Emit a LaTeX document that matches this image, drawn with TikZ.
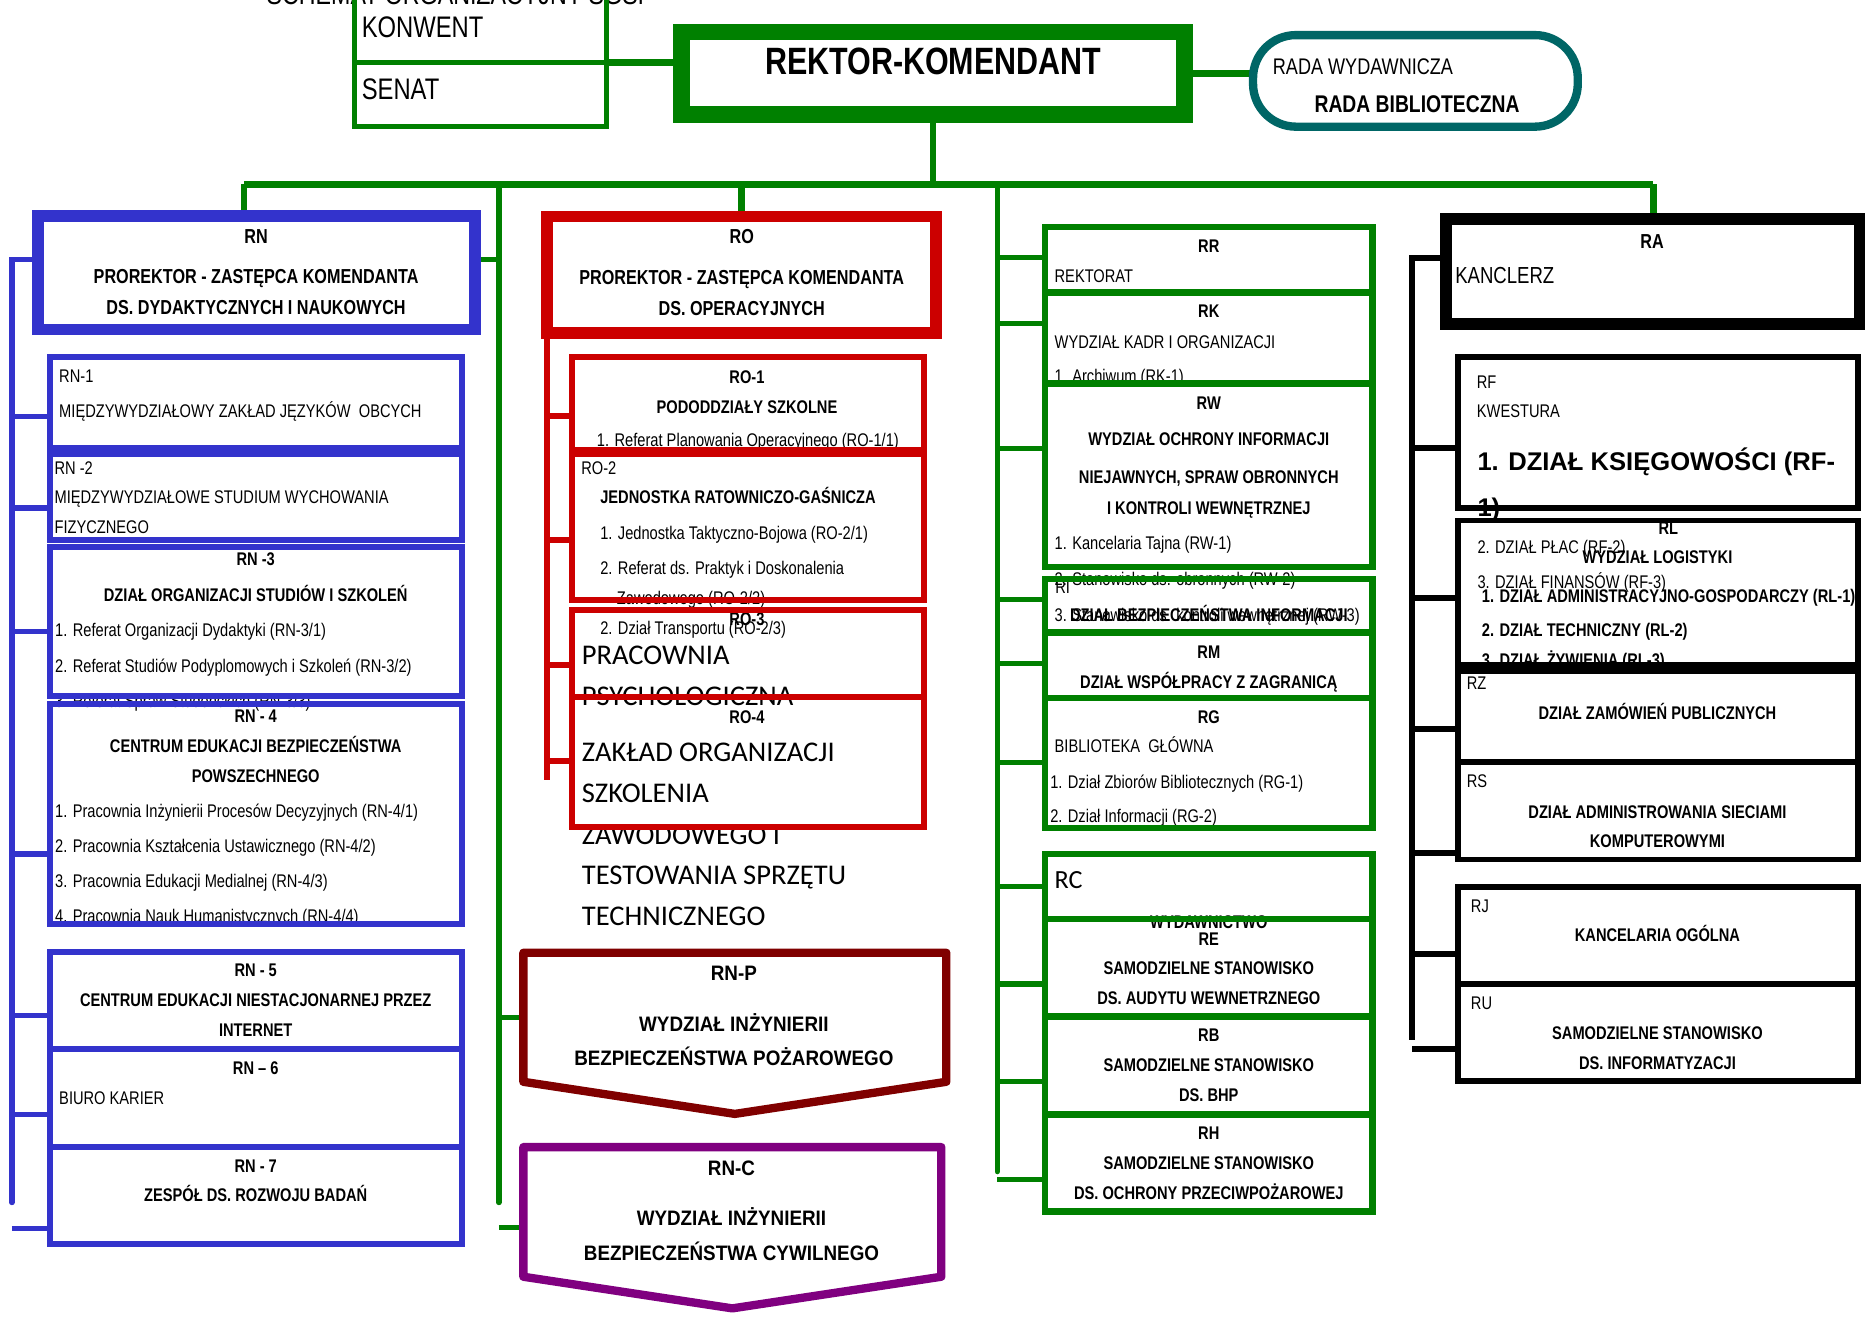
\documentclass[tikz,border=0pt]{standalone}
\usepackage{fontspec}
\setmainfont{Liberation Sans}[FakeStretch=0.8]
\newfontfamily\widefont{Liberation Sans}[FakeStretch=0.9]
\newfontfamily\plainfont{Liberation Sans}
\newfontfamily\calfont{Carlito}
\usetikzlibrary{fit}
\pgfdeclarelayer{front}
\pgfsetlayers{main,front}

\definecolor{sgspgreen}{RGB}{0,128,0}
\definecolor{sgspblue}{RGB}{51,51,204}
\definecolor{sgspred}{RGB}{204,0,0}
\definecolor{sgspdred}{RGB}{128,0,0}
\definecolor{sgsppurple}{RGB}{128,0,128}
\definecolor{sgspteal}{RGB}{0,102,102}

\newcommand{\fsz}[1]{\fontsize{#1}{#1}\selectfont}

\tikzset{
  frame/.style={inner sep=0pt, outer sep=0pt},
  gframe/.style={frame, draw=sgspgreen, line width=5.5pt},
  bframe/.style={frame, draw=sgspblue, line width=5pt},
  rframe/.style={frame, draw=sgspred, line width=5pt},
  kframe/.style={frame, draw=black, line width=5pt},
  gline/.style={draw=sgspgreen, line width=4.5pt},
  bline/.style={draw=sgspblue, line width=4.5pt},
  rline/.style={draw=sgspred, line width=5pt},
  kline/.style={draw=black, line width=5pt},
  lt/.style={anchor=base west, inner sep=0pt, font=\fsz{15.4}, yshift=-5.5pt},
  lb/.style={lt, font=\fsz{15.4}\bfseries},
  ct/.style={anchor=base, inner sep=0pt, font=\fsz{15.4}\bfseries, yshift=-5.5pt},
  chead/.style={anchor=base, inner sep=0pt, font=\fsz{17}\bfseries, yshift=-6.1pt},
  lcal/.style={anchor=base west, inner sep=0pt, font=\calfont\fsz{24}, yshift=-7.7pt},
  cwide/.style={anchor=base, inner sep=0pt, font=\widefont\fsz{17.6}\bfseries, yshift=-6.3pt},
}

\begin{document}
\begin{tikzpicture}[x=1pt, y=-1pt]
\path[use as bounding box, fill=white] (0,0) rectangle (1568,1109);

% frames on top of the texts
\begin{pgfonlayer}{front}
  \node (konwent) [gframe, line width=4.5pt, fit={(298,-4) (510,52.5)}] {};
  \node (senat) [gframe, line width=4.5pt, fit={(298,52.5) (510,106.5)}] {};
  \node (rektor) [gframe, line width=14pt, fit={(573,27) (996,96)}] {};
  \node (rada) [frame, draw=sgspteal, line width=7pt, rounded corners=36pt, fit={(1053.5,29.5) (1326.5,106.5)}] {};
  % RN
  \node (rn) [bframe, line width=10pt, fit={(31.6,181.6) (399,277)}] {};
  \node (rn1) [bframe, fit={(42,300) (388.5,377)}] {};
  \node (rn2) [bframe, fit={(42,381.5) (388.5,454)}] {};
  \node (rn3) [bframe, fit={(42,459.5) (388.5,585.5)}] {};
  \node (rn4) [bframe, fit={(42,591.5) (388.5,777)}] {};
  \node (rn5) [bframe, fit={(42,800) (388.5,882)}] {};
  \node (rn6) [bframe, fit={(42,882) (388.5,964)}] {};
  \node (rn7) [bframe, fit={(42,964) (388.5,1045.5)}] {};
  % RO
  \node (ro) [rframe, line width=10pt, fit={(460,182) (787,280)}] {};
  \node (ro1) [rframe, fit={(481,300) (776.5,378)}] {};
  \node (ro2) [rframe, fit={(481,381.5) (776.5,504.5)}] {};
  \node (ro3) [rframe, fit={(481,513) (776.5,586)}] {};
  \node (ro4) [rframe, fit={(481,586) (776.5,695.5)}] {};
  % faculties
  \node (rnp) [frame, fit={(440,801) (795.6,909.5)}] {};
  \draw[sgspdred, line width=7pt, line join=round] (rnp.north west) -- (rnp.north east) -- (rnp.south east)
    -- ([yshift=-27pt]rnp.south) -- (rnp.south west) -- cycle;
  \node (rnc) [frame, fit={(440,964.4) (791.4,1073.4)}] {};
  \draw[sgsppurple, line width=7pt, line join=round] (rnc.north west) -- (rnc.north east) -- (rnc.south east)
    -- ([yshift=-26.6pt]rnc.south) -- (rnc.south west) -- cycle;
  % green column
  \node (rr) [gframe, fit={(878.6,191) (1154,246)}] {};
  \node (rk) [gframe, fit={(878.6,246) (1154,322.5)}] {};
  \node (rw) [gframe, fit={(878.6,322.5) (1154,476.7)}] {};
  \node (ri) [gframe, fit={(878.6,486.6) (1154,531.6)}] {};
  \node (rm) [gframe, fit={(878.6,531.6) (1154,586.7)}] {};
  \node (rg) [gframe, fit={(878.6,586.7) (1154,696)}] {};
  \node (rc) [gframe, fit={(878.6,718) (1154,772.6)}] {};
  \node (re) [gframe, fit={(878.6,772.6) (1154,854.6)}] {};
  \node (rb) [gframe, fit={(878.6,854.6) (1154,937)}] {};
  \node (rh) [gframe, fit={(878.6,937) (1154,1018.4)}] {};
  % RA
  \node (ra) [kframe, line width=10pt, fit={(1215.6,184.3) (1564,272.5)}] {};
  \node (rf) [kframe, fit={(1225.4,300.4) (1561.7,427.4)}] {};
  \node (rl) [kframe, fit={(1225.4,437.6) (1561.7,559.4)}] {};
  \node (rz) [kframe, fit={(1225.4,564) (1561.7,640.4)}] {};
  \node (rs) [kframe, fit={(1225.4,640.4) (1561.7,722.6)}] {};
  \node (rj) [kframe, fit={(1225.4,745.8) (1561.7,827.4)}] {};
  \node (ru) [kframe, fit={(1225.4,827.4) (1561.7,909)}] {};
\end{pgfonlayer}

% connectors
\coordinate (busL) at (205,155);
\coordinate (busR) at (1390,155);
\coordinate (gtrunkL) at (419.5,155);
\coordinate (gtrunkR) at (838.4,155);
\draw[gline, line width=6pt] (konwent.south east) -- (konwent.south east -| rektor.west);
\draw[gline, line width=6pt] (rektor.east) -- (rektor.east -| rada.west);
\draw[gline, line width=5.5pt] (busL) -- (busR);
\draw[gline] (rektor.south) -- (rektor.south |- busL);
\draw[gline, line width=5.5pt] (busL) -- (busL |- rn.north);
\draw[gline, line width=5.5pt] (ro.north) -- (ro.north |- busL);
\draw[gline, line width=5.5pt] (busR) -- (busR |- ra.north);
\draw[gline, line cap=round] (gtrunkL) -- (gtrunkL |- 0,1011);
\draw[gline] (rn.east |- 0,218) -- (gtrunkL |- 0,218);
\draw[gline] (gtrunkL |- rnp.west) -- (rnp.west);
\draw[gline] (gtrunkL |- 0,1032) -- (rnc.west |- 0,1032);
% blue
\coordinate (btop) at (10,218);
\draw[bline, line cap=round] (rn.west |- btop) -- (btop) -- (btop |- 0,1011);
\foreach \b/\y in {rn1/350, rn2/427, rn3/531, rn4/718, rn5/854, rn6/937}
  \draw[bline] (btop |- 0,\y) -- (\b.west |- 0,\y);
\draw[bline] (btop |- 0,1033) -- (rn7.west |- 0,1033);
% red
\draw[rline] (ro.south west) -- (ro.south west |- 0,656);
\foreach \b/\y in {ro1/350, ro2/454, ro3/559, ro4/640}
  \draw[rline] (ro.south west |- 0,\y) -- (\b.west |- 0,\y);
% green right
\draw[gline, line cap=round] (gtrunkR) -- (gtrunkR |- 0,985);
\foreach \b/\y in {rr/216.4, rk/271.9, rw/377, ri/504, rm/557.7, rg/641, rc/745.5, re/827.3, rb/909.4}
  \draw[gline] (gtrunkR |- 0,\y) -- (\b.west |- 0,\y);
\draw[gline] (gtrunkR |- 0,991.5) -- (rh.west |- 0,991.5);
% black
\coordinate (ktop) at (1187.3,217.2);
\draw[kline] (ra.west |- ktop) -- (ktop) -- (ktop |- 0,874.4);
\foreach \b/\y in {rf/377, rl/503, rz/613, rs/717.5, rj/802}
  \draw[kline] (ktop |- 0,\y) -- (\b.west |- 0,\y);
\draw[kline] (ktop |- 0,882) -- (ru.west |- 0,882);

% top texts
\node (title) [anchor=base west, inner sep=0pt, font=\fsz{24.4}] at (224,4) {SCHEMAT ORGANIZACYJNY SGSP};
\node (konwent-t) [anchor=base west, inner sep=0pt, font=\fsz{25}, yshift=-9pt] at (304,22.5) {KONWENT};
\node (senat-t) [anchor=base west, inner sep=0pt, font=\fsz{25}, yshift=-9pt] at (304,75) {SENAT};
\node (rektor-t) [anchor=base, inner sep=0pt, font=\fsz{32}\bfseries, yshift=-11.5pt] at (784.5,51) {REKTOR-KOMENDANT};
\node (rada-t1) [anchor=base west, inner sep=0pt, font=\fsz{19}, yshift=-6.8pt] at (1070,56) {RADA WYDAWNICZA};
\node (rada-t2) [anchor=base west, inner sep=0pt, font=\fsz{20.3}\bfseries, yshift=-7.3pt] at (1105,87) {RADA BIBLIOTECZNA};

% RN
\node (rn-t1) [chead] at (215.3,198.2) {RN};
\node (rn-t2) [chead] at (215.3,231.9) {PROREKTOR - ZASTĘPCA KOMENDANTA};
\node (rn-t3) [chead] at (215.3,258.5) {DS. DYDAKTYCZNYCH I NAUKOWYCH};
\node (rn1-t1) [lt] at (49.6,316.4) {RN-1};
\node (rn1-t2) [lt] at (49.6,345.3) {MIĘDZYWYDZIAŁOWY ZAKŁAD JĘZYKÓW~~OBCYCH};
\node (rn2-t1) [lt] at (45.7,393.8) {RN -2};
\node (rn2-t2) [lt] at (45.7,417.9) {MIĘDZYWYDZIAŁOWE STUDIUM WYCHOWANIA};
\node (rn2-t3) [lt] at (45.7,442.8) {FIZYCZNEGO};
\node (rn3-t1) [ct] at (215,470.3) {RN -3};
\node (rn3-t2) [ct] at (215,500.3) {DZIAŁ ORGANIZACJI STUDIÓW I SZKOLEŃ};
\node (rn3-t3) [lt] at (46.2,530) {1. Referat Organizacji Dydaktyki (RN-3/1)};
\node (rn3-t4) [lt] at (46.2,559.5) {2. Referat Studiów Podyplomowych i Szkoleń (RN-3/2)};
\node (rn3-t5) [lt] at (46.2,589) {3. Referat Spraw Studenckich (RN-3/3)};
\node (rn4-t1) [ct] at (215,602.3) {RN - 4};
\node (rn4-t2) [ct] at (215,627.5) {CENTRUM EDUKACJI BEZPIECZEŃSTWA};
\node (rn4-t3) [ct] at (215,652.7) {POWSZECHNEGO};
\node (rn4-t4) [lt] at (46.2,682.2) {1. Pracownia Inżynierii Procesów Decyzyjnych (RN-4/1)};
\node (rn4-t5) [lt] at (46.2,711.6) {2. Pracownia Kształcenia Ustawicznego (RN-4/2)};
\node (rn4-t6) [lt] at (46.2,741) {3. Pracownia Edukacji Medialnej (RN-4/3)};
\node (rn4-t7) [lt] at (46.2,770.4) {4. Pracownia Nauk Humanistycznych (RN-4/4)};
\node (rn5-t1) [ct] at (215,815.5) {RN - 5};
\node (rn5-t2) [ct] at (215,840.8) {CENTRUM EDUKACJI NIESTACJONARNEJ PRZEZ};
\node (rn5-t3) [ct] at (215,866) {INTERNET};
\node (rn6-t1) [ct] at (215,898.2) {RN – 6};
\node (rn6-t2) [lt] at (49.6,923.2) {BIURO KARIER};
\node (rn7-t1) [ct] at (215,980.3) {RN - 7};
\node (rn7-t2) [ct] at (215,1004.7) {ZESPÓŁ DS. ROZWOJU BADAŃ};

% RO
\node (ro-t1) [chead] at (623.6,199) {RO};
\node (ro-t2) [chead] at (623.6,233) {PROREKTOR - ZASTĘPCA KOMENDANTA};
\node (ro-t3) [chead] at (623.6,259) {DS. OPERACYJNYCH};
\node (ro1-t1) [ct] at (628,316.7) {RO-1};
\node (ro1-t2) [ct] at (628,342) {PODODDZIAŁY SZKOLNE};
\node (ro1-t3) [lt] at (501.7,370) {1. Referat Planowania Operacyjnego (RO-1/1)};
\node (ro2-t1) [lt] at (488.5,393.8) {RO-2};
\node (ro2-t2) [lb] at (504.5,417.6) {JEDNOSTKA RATOWNICZO-GAŚNICZA};
\node (ro2-t3) [lt] at (504.5,448.4) {1. Jednostka Taktyczno-Bojowa (RO-2/1)};
\node (ro2-t4) [lt] at (504.5,477.9) {2. Referat ds. Praktyk i Doskonalenia};
\node (ro2-t5) [lt] at (518.5,503) {Zawodowego (RO-2/2)};
\node (ro2-t6) [lt] at (504.5,528.3) {2. Dział Transportu (RO-2/3)};
\node (ro3-t1) [ct] at (628,520) {RO-3};
\node (ro3-t2) [lcal] at (489,550.8) {PRACOWNIA};
\node (ro3-t3) [lcal] at (489,585.8) {PSYCHOLOGICZNA};
\node (ro4-t1) [ct] at (628,602.6) {RO-4};
\node (ro4-t2) [lcal] at (489,632.8) {ZAKŁAD ORGANIZACJI};
\node (ro4-t3) [lcal] at (489,667) {SZKOLENIA};
\node (ro4-t4) [lcal] at (489,702) {ZAWODOWEGO I};
\node (ro4-t5) [lcal] at (489,735.7) {TESTOWANIA SPRZĘTU};
\node (ro4-t6) [lcal] at (489,770.7) {TECHNICZNEGO};

% faculties
\node (rnp-t1) [cwide] at (617,817.8) {RN-P};
\node (rnp-t2) [cwide] at (617,861.2) {WYDZIAŁ INŻYNIERII};
\node (rnp-t3) [cwide] at (617,889.2) {BEZPIECZEŃSTWA POŻAROWEGO};
\node (rnc-t1) [cwide] at (615,982.3) {RN-C};
\node (rnc-t2) [cwide] at (615,1024.4) {WYDZIAŁ INŻYNIERII};
\node (rnc-t3) [cwide] at (615,1053.8) {BEZPIECZEŃSTWA CYWILNEGO};

% green column
\node (rr-t1) [ct] at (1016.3,206.8) {RR};
\node (rr-t2) [lt] at (886.5,232) {REKTORAT};
\node (rk-t1) [ct] at (1016.3,261.2) {RK};
\node (rk-t2) [lt] at (886.5,287.3) {WYDZIAŁ KADR I ORGANIZACJI};
\node (rk-t3) [lt] at (886.5,315.9) {1. Archiwum (RK-1)};
\node (rw-t1) [ct] at (1016.3,338.6) {RW};
\node (rw-t2) [ct] at (1016.3,368.8) {WYDZIAŁ OCHRONY INFORMACJI};
\node (rw-t3) [ct] at (1016.3,400.8) {NIEJAWNYCH, SPRAW OBRONNYCH};
\node (rw-t4) [ct] at (1016.3,427.4) {I KONTROLI WEWNĘTRZNEJ};
\node (rw-t5) [lt] at (886.5,456.8) {1. Kancelaria Tajna (RW-1)};
\node (rw-t6) [lt] at (886.5,486.8) {2. Stanowisko ds. obronnych (RW-2)};
\node (rw-t7) [lt] at (886.5,517) {3. Stanowisko ds. kontroli wewnętrznej (RW-3)};
\node (ri-t1) [lt] at (887,493.8) {RI};
\node (ri-t2) [ct] at (1016.3,517) {DZIAŁ BEZPIECZEŃSTWA INFORMACJI};
\node (rm-t1) [ct] at (1016.3,548) {RM};
\node (rm-t2) [ct] at (1016.3,573) {DZIAŁ WSPÓŁPRACY Z ZAGRANICĄ};
\node (rg-t1) [ct] at (1016.3,602.6) {RG};
\node (rg-t2) [lt] at (886.5,627.2) {BIBLIOTEKA~~GŁÓWNA};
\node (rg-t3) [lt] at (882.8,657.2) {1. Dział Zbiorów Bibliotecznych (RG-1)};
\node (rg-t4) [lt] at (882.8,686) {2. Dział Informacji (RG-2)};
\node (rc-t1) [lcal, font=\calfont\fsz{22}, yshift=-0.6pt] at (886.5,738.5) {RC};
\node (rc-t2) [ct] at (1016.3,775.3) {WYDAWNICTWO};
\node (re-t1) [ct] at (1016.3,789) {RE};
\node (re-t2) [ct] at (1016.3,814.2) {SAMODZIELNE STANOWISKO};
\node (re-t3) [ct] at (1016.3,838.8) {DS. AUDYTU WEWNETRZNEGO};
\node (rb-t1) [ct] at (1016.3,870.2) {RB};
\node (rb-t2) [ct] at (1016.3,895.4) {SAMODZIELNE STANOWISKO};
\node (rb-t3) [ct] at (1016.3,920.6) {DS. BHP};
\node (rh-t1) [ct] at (1016.3,952.8) {RH};
\node (rh-t2) [ct] at (1016.3,977.5) {SAMODZIELNE STANOWISKO};
\node (rh-t3) [ct] at (1016.3,1002.8) {DS. OCHRONY PRZECIWPOŻAROWEJ};

% RA
\node (ra-t1) [chead] at (1389,203.2) {RA};
\node (ra-t2) [anchor=base west, inner sep=0pt, font=\fsz{19.5}, yshift=-7pt] at (1223.3,231.2) {KANCLERZ};
\node (rf-t1) [lt] at (1241.5,320.9) {RF};
\node (rf-t2) [lt] at (1241.5,345.6) {KWESTURA};
\node (rf-t3) [anchor=base west, inner sep=0pt, font=\plainfont\fsz{21.5}\bfseries, yshift=-7.7pt] at (1242,387.5) {1. DZIAŁ KSIĘGOWOŚCI (RF-};
\node (rf-t4) [anchor=base west, inner sep=0pt, font=\plainfont\fsz{21.5}\bfseries, yshift=-7.7pt] at (1242,426.7) {1)};
\node (rf-t5) [lt] at (1242,459.6) {2. DZIAŁ PŁAC (RF-2)};
\node (rf-t6) [lt] at (1242,489) {3. DZIAŁ FINANSÓW (RF-3)};
\node (rl-t1) [ct] at (1402.7,444.2) {RL};
\node (rl-t2) [ct] at (1393.5,468.6) {WYDZIAŁ LOGISTYKI};
\node (rl-t3) [lb] at (1245.7,501) {1. DZIAŁ ADMINISTRACYJNO-GOSPODARCZY (RL-1)};
\node (rl-t4) [lb] at (1245.7,530) {2. DZIAŁ TECHNICZNY (RL-2)};
\node (rl-t5) [lb] at (1245.7,555) {3. DZIAŁ ŻYWIENIA (RL-3)};
\node (rz-t1) [lt] at (1233,574.5) {RZ};
\node (rz-t2) [ct] at (1393.5,599.7) {DZIAŁ ZAMÓWIEŃ PUBLICZNYCH};
\node (rs-t1) [lt] at (1233,656.6) {RS};
\node (rs-t2) [ct] at (1393.5,682.4) {DZIAŁ ADMINISTROWANIA SIECIAMI};
\node (rs-t3) [ct] at (1393.5,707.1) {KOMPUTEROWYMI};
\node (rj-t1) [lt] at (1236.5,761.4) {RJ};
\node (rj-t2) [ct] at (1393.5,786.1) {KANCELARIA OGÓLNA};
\node (ru-t1) [lt] at (1236.5,843.6) {RU};
\node (ru-t2) [ct] at (1393.5,868.2) {SAMODZIELNE STANOWISKO};
\node (ru-t3) [ct] at (1393.5,893.5) {DS. INFORMATYZACJI};
\end{tikzpicture}
\end{document}
